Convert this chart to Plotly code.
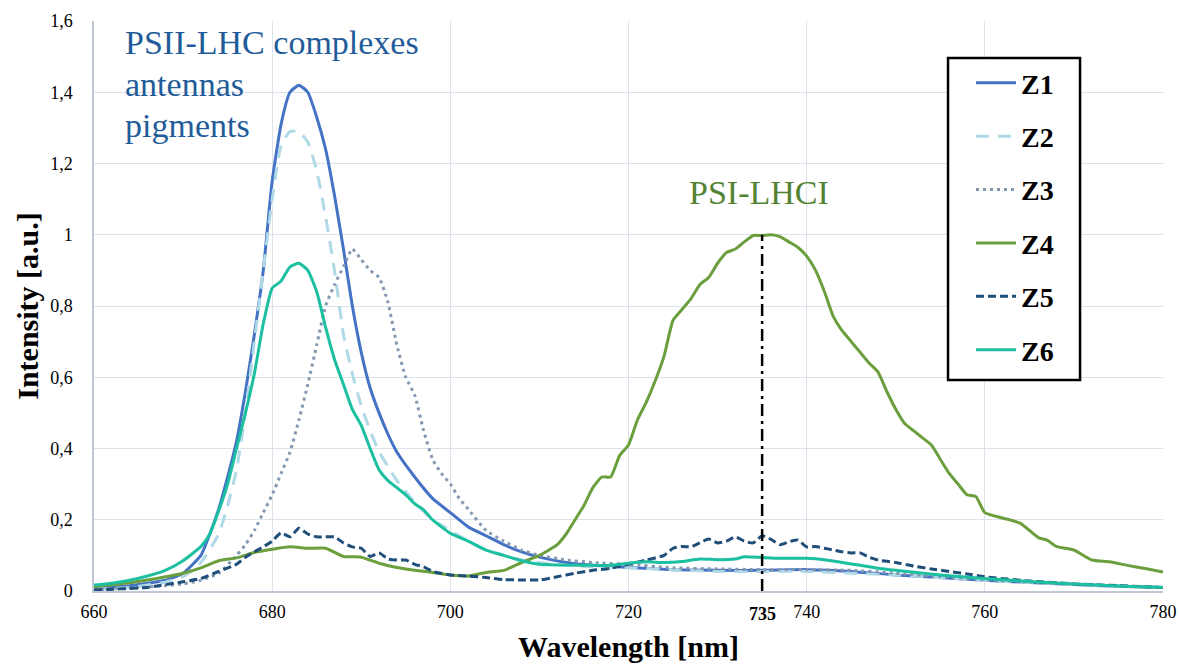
import plotly.graph_objects as go

# ---------------- data ----------------
z1_wl = [660, 664, 668, 670, 672, 673, 674, 675, 676, 677, 678, 679, 680, 681, 682, 683, 684, 685,
         686, 687, 688, 689, 690, 691, 692, 693, 694, 696, 698, 700, 702, 704, 706, 708, 710, 713,
         716, 720, 725, 730, 735, 740, 745, 750, 755, 760, 765, 770, 775, 780]
z1_int = [0.008, 0.015, 0.03, 0.05, 0.1, 0.16, 0.23, 0.32, 0.42, 0.56, 0.72, 0.9, 1.15, 1.31, 1.40, 1.42, 1.40, 1.33,
          1.24, 1.11, 0.96, 0.8, 0.67, 0.57, 0.50, 0.44, 0.39, 0.32, 0.26, 0.22, 0.18, 0.155, 0.13, 0.11, 0.095, 0.08,
          0.072, 0.066, 0.06, 0.058, 0.058, 0.06, 0.055, 0.045, 0.038, 0.03, 0.024, 0.018, 0.013, 0.01]

z2_wl = [660, 664, 668, 670, 672, 674, 675, 676, 677, 678, 679, 680, 681, 682, 683, 684, 685, 686,
         687, 688, 689, 690, 691, 692, 693, 694, 696, 698, 700, 702, 704, 706, 708, 710, 713, 716,
         720, 725, 730, 735, 740, 745, 750, 755, 760, 765, 770, 775, 780]
z2_int = [0.005, 0.01, 0.025, 0.04, 0.08, 0.16, 0.24, 0.34, 0.5, 0.7, 0.9, 1.1, 1.25, 1.29, 1.29, 1.26, 1.18, 1.05,
          0.9, 0.72, 0.61, 0.52, 0.45, 0.39, 0.35, 0.31, 0.25, 0.2, 0.17, 0.14, 0.115, 0.1, 0.088, 0.08, 0.072, 0.068,
          0.065, 0.06, 0.055, 0.055, 0.055, 0.05, 0.045, 0.037, 0.03, 0.024, 0.018, 0.013, 0.01]

z3_wl = [660, 664, 668, 670, 672, 674, 676, 677, 678, 679, 680, 681, 682, 683, 684, 685, 686, 687,
         688, 689, 690, 691, 692, 693, 694, 695, 696, 697, 698, 699, 700, 701, 702, 704, 706, 708,
         710, 713, 716, 720, 725, 730, 735, 740, 745, 750, 755, 760, 765, 770, 775, 780]
z3_int = [0.004, 0.008, 0.015, 0.02, 0.03, 0.05, 0.1, 0.13, 0.17, 0.22, 0.27, 0.33, 0.39, 0.48, 0.58, 0.69, 0.8, 0.86,
          0.91, 0.96, 0.93, 0.9, 0.88, 0.81, 0.69, 0.6, 0.55, 0.45, 0.37, 0.33, 0.3, 0.26, 0.23, 0.17, 0.14, 0.115,
          0.1, 0.087, 0.08, 0.075, 0.065, 0.062, 0.06, 0.06, 0.058, 0.05, 0.04, 0.032, 0.025, 0.019, 0.014, 0.01]

z4_wl = [660, 663, 666, 670, 672, 674, 676, 678, 680, 682, 684, 686, 688, 690, 692, 694, 696, 698,
         700, 702, 704, 706, 708, 710, 712, 713, 714, 715, 716, 717, 718, 719, 720, 721, 722, 723,
         724, 725, 726, 727, 728, 729, 730, 731, 732, 733, 734, 735, 736, 737, 738, 739, 740, 741,
         742, 743, 744, 745, 746, 747, 748, 749, 750, 751, 752, 753, 754, 755, 756, 757, 758, 759,
         760, 762, 764, 766, 767, 768, 770, 772, 774, 776, 778, 780]
z4_int = [0.012, 0.02, 0.031, 0.05, 0.065, 0.085, 0.093, 0.108, 0.117, 0.124, 0.12, 0.12, 0.097, 0.095, 0.078, 0.066, 0.058, 0.052,
          0.045, 0.042, 0.052, 0.058, 0.08, 0.1, 0.13, 0.16, 0.2, 0.24, 0.29, 0.32, 0.32, 0.38, 0.41, 0.48, 0.53, 0.59,
          0.66, 0.76, 0.79, 0.82, 0.86, 0.88, 0.92, 0.95, 0.96, 0.98, 0.998, 0.998, 1.0, 0.995, 0.98, 0.965, 0.94, 0.9,
          0.84, 0.77, 0.73, 0.70, 0.67, 0.64, 0.615, 0.56, 0.51, 0.47, 0.45, 0.43, 0.41, 0.37, 0.33, 0.3, 0.27, 0.265,
          0.22, 0.205, 0.19, 0.15, 0.143, 0.125, 0.115, 0.087, 0.082, 0.072, 0.063, 0.053]

z5_wl = [660, 663, 666, 670, 672, 674, 676, 677, 678, 679, 680, 681, 682, 683, 684, 685, 686, 687,
         688, 689, 690, 691, 692, 693, 694, 695, 696, 697, 698, 700, 702, 704, 706, 708, 710, 712,
         714, 716, 718, 720, 722, 724, 725, 726, 727, 728, 729, 730, 731, 732, 733, 734, 735, 736,
         737, 738, 739, 740, 741, 742, 743, 744, 745, 746, 747, 748, 750, 752, 754, 756, 758, 760,
         765, 770, 775, 780]
z5_int = [0.003, 0.006, 0.01, 0.026, 0.035, 0.055, 0.075, 0.095, 0.11, 0.124, 0.14, 0.163, 0.152, 0.176, 0.16, 0.152, 0.152, 0.152,
          0.135, 0.124, 0.12, 0.097, 0.107, 0.09, 0.087, 0.087, 0.075, 0.068, 0.055, 0.045, 0.042, 0.038, 0.032, 0.031, 0.031, 0.04,
          0.05, 0.058, 0.064, 0.075, 0.087, 0.1, 0.12, 0.125, 0.124, 0.135, 0.146, 0.135, 0.14, 0.152, 0.14, 0.135, 0.155, 0.145,
          0.13, 0.138, 0.143, 0.124, 0.125, 0.12, 0.115, 0.11, 0.107, 0.107, 0.095, 0.087, 0.08, 0.07, 0.062, 0.055, 0.048, 0.04,
          0.028, 0.02, 0.015, 0.01]

z6_wl = [660, 662, 664, 666, 668, 670, 672, 673, 674, 675, 676, 677, 678, 679, 680, 681, 682, 683,
         684, 685, 686, 687, 688, 689, 690, 691, 692, 693, 694, 695, 696, 697, 698, 699, 700, 702,
         704, 706, 708, 710, 712, 716, 718, 720, 722, 724, 726, 728, 730, 732, 733, 735, 737, 740,
         742, 744, 746, 748, 750, 755, 760, 765, 770, 775, 780]
z6_int = [0.017, 0.022, 0.03, 0.042, 0.058, 0.085, 0.125, 0.16, 0.225, 0.3, 0.4, 0.5, 0.61, 0.75, 0.85, 0.87, 0.91, 0.92,
          0.9, 0.84, 0.74, 0.65, 0.58, 0.51, 0.465, 0.4, 0.34, 0.31, 0.29, 0.27, 0.245, 0.228, 0.2, 0.18, 0.162, 0.14,
          0.115, 0.1, 0.085, 0.075, 0.073, 0.072, 0.072, 0.078, 0.082, 0.08, 0.083, 0.09, 0.088, 0.09, 0.096, 0.094, 0.092, 0.092,
          0.088, 0.08, 0.072, 0.064, 0.058, 0.045, 0.035, 0.027, 0.02, 0.014, 0.01]

series_names = ["Z1", "Z2", "Z3", "Z4", "Z5", "Z6"]
x_tick_vals = [660, 680, 700, 720, 740, 760, 780]
x_tick_text = ["660", "680", "700", "720", "740", "760", "780"]
y_tick_vals = [0, 0.2, 0.4, 0.6, 0.8, 1.0, 1.2, 1.4, 1.6]
y_tick_text = ["0", "0,2", "0,4", "0,6", "0,8", "1", "1,2", "1,4", "1,6"]
peak_wl = 735
peak_int = 1.0
psii_label = ["PSII-LHC complexes", "antennas", "pigments"]
psi_label = "PSI-LHCI"

# ---------------- styling ----------------
SERIF = "Liberation Serif"
styles = [
    dict(color="#4472C4", dash="solid"),
    dict(color="#B0D9E8", dash="13px,9px"),
    dict(color="#8497B0", dash="3px,4px"),
    dict(color="#6B9F3E", dash="solid"),
    dict(color="#1F4E79", dash="8px,4px"),
    dict(color="#1CBFA0", dash="solid"),
]
data = [(z1_wl, z1_int), (z2_wl, z2_int), (z3_wl, z3_int),
        (z4_wl, z4_int), (z5_wl, z5_int), (z6_wl, z6_int)]

fig = go.Figure()
for name, (xs, ys), st in zip(series_names, data, styles):
    fig.add_trace(go.Scatter(
        x=xs, y=ys, mode="lines", name="<b>" + name + "</b>",
        legendgroup=name,
        line=dict(color=st["color"], dash=st["dash"], width=3, shape="spline", smoothing=0.5),
    ))

# vertical dash-dot marker at the PSI peak
fig.add_shape(type="line", x0=peak_wl, x1=peak_wl, y0=0, y1=peak_int, xref="x", yref="y",
              line=dict(color="black", width=2.5, dash="12px,5px,3px,5px"))

# legend frame (white box with black border, legend entries drawn on top of it)
fig.add_shape(type="rect", xref="paper", yref="paper", x0=0.7989, x1=0.9224, y0=0.370, y1=0.935,
              layer="above", fillcolor="white", line=dict(color="black", width=2.5))

# bold 735 tick label
fig.add_annotation(x=peak_wl, y=0, xref="x", yref="y", text="<b>735</b>", showarrow=False,
                   yanchor="top", yshift=-11, font=dict(family=SERIF, size=18, color="black"))

# text annotations
ys_lbl = [1.540, 1.422, 1.307]
for txt, yy in zip(psii_label, ys_lbl):
    fig.add_annotation(x=663.3, y=yy, xref="x", yref="y", text=txt, showarrow=False,
                       xanchor="left", yanchor="middle",
                       font=dict(family=SERIF, size=34, color="#1F5C99"))
fig.add_annotation(x=734.6, y=1.119, xref="x", yref="y", text=psi_label, showarrow=False,
                   xanchor="center", yanchor="middle",
                   font=dict(family=SERIF, size=34, color="#548235"))

grid_col = "#DDE1EA"
fig.update_layout(
    width=1179, height=666,
    margin=dict(l=94, r=16, t=21, b=75, autoexpand=False),
    paper_bgcolor="white", plot_bgcolor="white",
    font=dict(family=SERIF, color="black"),
    separators=",.",
    showlegend=True,
    legend=dict(
        x=0.8204, y=0.935, xanchor="left", yanchor="top",
        bgcolor="rgba(0,0,0,0)", borderwidth=0,
        font=dict(family=SERIF, size=28, color="black"),
        tracegroupgap=14, traceorder="grouped",
        itemwidth=40,
    ),
    xaxis=dict(
        range=[660, 780], tickvals=x_tick_vals, ticktext=x_tick_text,
        automargin=False,
        showgrid=True, gridcolor=grid_col, gridwidth=1,
        showline=True, linecolor="#BFC7D5", linewidth=1.5,
        zeroline=False, ticks="", ticklabelstandoff=4,
        tickfont=dict(family=SERIF, size=18, color="black"),
        title=dict(text="<b>Wavelength [nm]</b>", font=dict(family=SERIF, size=30, color="black"), standoff=15),
    ),
    yaxis=dict(
        range=[0, 1.6], tickvals=y_tick_vals, ticktext=y_tick_text,
        automargin=False,
        showgrid=True, gridcolor=grid_col, gridwidth=1,
        showline=True, linecolor="#BFC7D5", linewidth=1.5,
        zeroline=False, ticks="", ticklabelstandoff=16,
        tickfont=dict(family=SERIF, size=18, color="black"),
        title=dict(text="<b>Intensity [a.u.]</b>", font=dict(family=SERIF, size=30, color="black"), standoff=3),
    ),
)

# remove the default page margin so the figure fills the window exactly
fig.write_html(
    "out.html",
    config={"displayModeBar": False},
    post_script="document.documentElement.style.overflow='hidden';"
                "document.body.style.margin='0';document.body.style.overflow='hidden';",
)
